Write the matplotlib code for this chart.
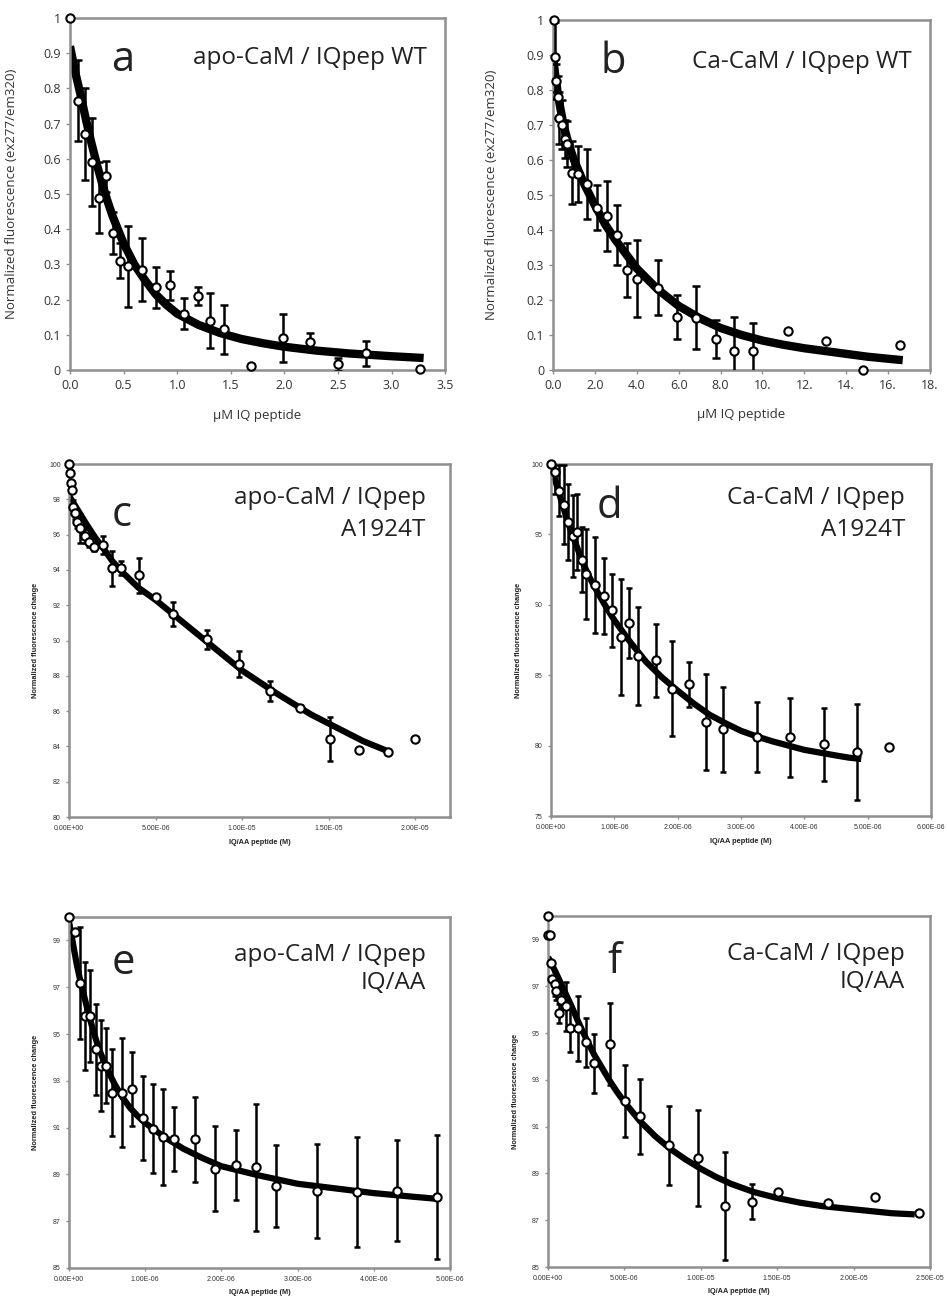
"""Six-panel CaM / IQ peptide fluorescence titration figure."""

import matplotlib

matplotlib.use("Agg")
import matplotlib.pyplot as plt
import numpy as np

# ---- data ------------------------------------------------------------------
# a: apo-CaM / IQpep WT (uM)
A_X = [0.0, 0.075, 0.137, 0.206, 0.27, 0.34, 0.40, 0.47, 0.54, 0.67, 0.80, 0.93,
       1.06, 1.19, 1.31, 1.44, 1.69, 1.99, 2.24, 2.50, 2.76, 3.27]
A_Y = [1.0, 0.765, 0.67, 0.59, 0.49, 0.55, 0.39, 0.31, 0.295, 0.285, 0.235, 0.24,
       0.16, 0.21, 0.14, 0.115, 0.012, 0.09, 0.08, 0.016, 0.047, 0.002]
A_ERR = [0, 0.115, 0.13, 0.125, 0.1, 0.045, 0.06, 0.05, 0.115, 0.09, 0.058, 0.04,
         0.045, 0.025, 0.078, 0.07, 0.005, 0.068, 0.025, 0.018, 0.036, 0]
A_FIT_X = [0.0, 0.05, 0.1, 0.15, 0.2, 0.25, 0.3, 0.35, 0.4, 0.5, 0.6, 0.7, 0.8, 0.9,
           1.0, 1.2, 1.4, 1.6, 1.8, 2.0, 2.3, 2.6, 3.0, 3.3]
A_FIT_Y = [0.92, 0.845, 0.78, 0.71, 0.645, 0.585, 0.53, 0.48, 0.435, 0.36, 0.30,
           0.255, 0.215, 0.185, 0.16, 0.128, 0.105, 0.088, 0.076, 0.066, 0.055,
           0.047, 0.039, 0.034]

# b: Ca-CaM / IQpep WT (uM)
B_X = [0.05, 0.11, 0.16, 0.24, 0.29, 0.41, 0.56, 0.67, 0.91, 1.18, 1.62, 2.10, 2.58,
       3.05, 3.53, 4.0, 4.99, 5.91, 6.84, 7.76, 8.66, 9.55, 11.24, 13.04, 14.82, 16.57]
B_Y = [1.0, 0.893, 0.825, 0.78, 0.72, 0.70, 0.66, 0.645, 0.563, 0.561, 0.532, 0.464,
       0.44, 0.385, 0.286, 0.26, 0.235, 0.151, 0.149, 0.089, 0.055, 0.055, 0.11,
       0.082, 0.0, 0.072]
B_ERR = [0, 0.1, 0.05, 0.06, 0.075, 0.07, 0.055, 0.065, 0.09, 0.08, 0.1, 0.065, 0.1,
         0.085, 0.078, 0.11, 0.078, 0.062, 0.09, 0.055, 0.097, 0.08, 0, 0, 0, 0]
B_FIT_X = [0.0, 0.1, 0.25, 0.5, 0.75, 1.0, 1.5, 2.0, 2.5, 3.0, 3.5, 4.0, 5.0, 6.0,
           7.0, 8.0, 9.0, 10.0, 11.0, 12.0, 13.0, 14.0, 15.0, 16.0, 16.7]
B_FIT_Y = [0.895, 0.845, 0.78, 0.70, 0.645, 0.60, 0.53, 0.47, 0.415, 0.37, 0.33,
           0.29, 0.23, 0.183, 0.148, 0.12, 0.10, 0.084, 0.072, 0.062, 0.054, 0.046,
           0.038, 0.032, 0.028]

# c: apo-CaM / IQpep A1924T (M)
C_X = [0.0, 0.04e-6, 0.1e-6, 0.19e-6, 0.23e-6, 0.37e-6, 0.48e-6, 0.64e-6, 0.91e-6,
       1.16e-6, 1.45e-6, 1.97e-6, 2.49e-6, 3.0e-6, 4.06e-6, 5.0e-6, 5.99e-6, 7.96e-6,
       9.8e-6, 11.63e-6, 13.37e-6, 15.07e-6, 16.75e-6, 18.4e-6, 20.0e-6]
C_Y = [100, 99.47, 98.9, 98.5, 97.55, 97.2, 96.7, 96.35, 95.9, 95.6, 95.3, 95.4, 94.1,
       94.1, 93.7, 92.44, 91.5, 90.07, 88.66, 87.15, 86.18, 84.44, 83.8, 83.7, 84.4]
C_ERR = [0, 0, 0, 0, 0.4, 0.3, 0.3, 0.8, 0.4, 0.3, 0.2, 0.5, 1.0, 0.4, 1.0, 0.15, 0.7,
         0.55, 0.75, 0.55, 0.15, 1.25, 0, 0, 0]
C_FIT_X = [0.0, 0.5e-6, 1e-6, 1.5e-6, 2e-6, 2.5e-6, 3e-6, 4e-6, 5e-6, 6e-6, 7e-6,
           8e-6, 9e-6, 10e-6, 11e-6, 12e-6, 13e-6, 14e-6, 15e-6, 16e-6, 17e-6, 18.5e-6]
C_FIT_Y = [98.2, 97.4, 96.6, 95.85, 95.2, 94.5, 93.95, 93.0, 92.3, 91.5, 90.7, 89.9,
           89.1, 88.3, 87.65, 87.0, 86.4, 85.8, 85.3, 84.8, 84.3, 83.7]

# d: Ca-CaM / IQpep A1924T (M)
D_X = [0.0, 0.068e-6, 0.13e-6, 0.205e-6, 0.274e-6, 0.342e-6, 0.405e-6, 0.484e-6,
       0.553e-6, 0.695e-6, 0.83e-6, 0.963e-6, 1.1e-6, 1.237e-6, 1.37e-6, 1.65e-6,
       1.91e-6, 2.18e-6, 2.45e-6, 2.72e-6, 3.25e-6, 3.78e-6, 4.31e-6, 4.83e-6, 5.34e-6]
D_Y = [100, 99.4, 98.1, 97.1, 95.9, 94.9, 95.2, 93.2, 92.2, 91.4, 90.6, 89.6, 87.7,
       88.7, 86.35, 86.07, 84.05, 84.35, 81.7, 81.15, 80.6, 80.6, 80.1, 79.55, 79.9]
D_ERR = [0, 1.5, 1.8, 2.8, 2.7, 2.9, 2.7, 2.3, 3.2, 3.4, 2.7, 2.6, 4.1, 2.5, 3.5, 2.6,
         3.4, 1.6, 3.4, 3.0, 2.5, 2.8, 2.6, 3.4, 0]
D_FIT_X = [0.0, 0.1e-6, 0.2e-6, 0.3e-6, 0.4e-6, 0.5e-6, 0.6e-6, 0.75e-6, 0.9e-6,
           1.0e-6, 1.25e-6, 1.5e-6, 1.75e-6, 2.0e-6, 2.25e-6, 2.5e-6, 2.75e-6, 3.0e-6,
           3.25e-6, 3.5e-6, 3.75e-6, 4.0e-6, 4.25e-6, 4.5e-6, 4.7e-6, 4.9e-6]
D_FIT_Y = [99.9, 98.3, 96.8, 95.4, 94.2, 93.0, 92.0, 90.75, 89.6, 88.9, 87.35, 85.95,
           84.85, 83.9, 83.0, 82.2, 81.6, 81.05, 80.65, 80.3, 80.0, 79.7, 79.5, 79.3,
           79.15, 79.05]

# e: apo-CaM / IQpep IQ/AA (M)
E_X = [0.0, 0.074e-6, 0.144e-6, 0.21e-6, 0.276e-6, 0.35e-6, 0.415e-6, 0.486e-6,
       0.56e-6, 0.69e-6, 0.83e-6, 0.967e-6, 1.1e-6, 1.24e-6, 1.38e-6, 1.65e-6,
       1.916e-6, 2.19e-6, 2.45e-6, 2.72e-6, 3.25e-6, 3.78e-6, 4.3e-6, 4.83e-6]
E_Y = [100, 99.36, 97.19, 95.77, 95.77, 94.35, 93.65, 93.65, 92.5, 92.5, 92.65, 91.4,
       90.95, 90.6, 90.5, 90.5, 89.25, 89.4, 89.3, 88.5, 88.3, 88.25, 88.3, 88.05]
E_ERR = [0, 0, 2.4, 2.3, 1.95, 1.95, 1.95, 1.6, 1.85, 2.35, 1.6, 1.8, 1.9, 2.05, 1.37,
         1.82, 1.82, 1.5, 2.7, 1.75, 2.0, 2.35, 2.15, 2.65]
E_FIT_X = [0.0, 0.05e-6, 0.1e-6, 0.15e-6, 0.2e-6, 0.25e-6, 0.3e-6, 0.35e-6, 0.4e-6,
           0.5e-6, 0.6e-6, 0.7e-6, 0.8e-6, 0.9e-6, 1.0e-6, 1.25e-6, 1.5e-6, 1.75e-6,
           2.0e-6, 2.5e-6, 3.0e-6, 3.5e-6, 4.0e-6, 4.5e-6, 4.85e-6]
E_FIT_Y = [99.8, 98.9, 98.0, 97.25, 96.6, 95.95, 95.35, 94.8, 94.3, 93.5, 92.85, 92.3,
           91.85, 91.5, 91.2, 90.6, 90.1, 89.7, 89.35, 88.95, 88.6, 88.4, 88.2, 88.05,
           87.95]

# f: Ca-CaM / IQpep IQ/AA (M)
F_X = [0.0, 0.0, 0.1e-6, 0.22e-6, 0.26e-6, 0.44e-6, 0.55e-6, 0.7e-6, 0.87e-6, 1.2e-6,
       1.46e-6, 1.97e-6, 2.51e-6, 3.01e-6, 4.04e-6, 5.02e-6, 6.0e-6, 7.9e-6, 9.83e-6,
       11.6e-6, 13.36e-6, 15.07e-6, 18.3e-6, 21.4e-6, 24.3e-6]
F_Y = [100, 99.2, 99.2, 98.0, 97.3, 97.1, 96.8, 95.85, 96.4, 96.15, 95.2, 95.2, 94.6,
       93.7, 94.55, 92.1, 91.45, 90.2, 89.65, 87.6, 87.8, 88.2, 87.75, 88.0, 87.3]
F_ERR = [0, 0, 0, 0, 0, 0.5, 0.4, 0.4, 0.4, 1.05, 1.0, 1.4, 1.05, 1.25, 1.75, 1.55,
         1.6, 1.7, 2.05, 2.3, 0.75, 0, 0, 0, 0]
F_FIT_X = [0.0, 0.5e-6, 1e-6, 1.5e-6, 2e-6, 2.5e-6, 3e-6, 3.5e-6, 4e-6, 4.5e-6, 5e-6,
           6e-6, 7e-6, 8e-6, 9e-6, 10e-6, 11e-6, 12e-6, 13.5e-6, 15e-6, 16.5e-6, 18e-6,
           19.5e-6, 21e-6, 22.5e-6, 24e-6]
F_FIT_Y = [98.25, 97.6, 96.9, 96.2, 95.45, 94.75, 94.1, 93.55, 93.0, 92.5, 92.05,
           91.25, 90.6, 90.05, 89.6, 89.2, 88.85, 88.55, 88.2, 87.95, 87.75, 87.6,
           87.5, 87.4, 87.3, 87.25]

WT_XTICKS_A = [0.0, 0.5, 1.0, 1.5, 2.0, 2.5, 3.0, 3.5]
WT_XTICKS_B = [0, 2, 4, 6, 8, 10, 12, 14, 16, 18]
WT_XLABELS_B = ["0.0", "2.0", "4.0", "6.0", "8.0", "10.", "12.", "14.", "16.", "18."]
WT_YTICKS = [0.0, 0.1, 0.2, 0.3, 0.4, 0.5, 0.6, 0.7, 0.8, 0.9, 1.0]
WT_YLABELS = ["0", "0.1", "0.2", "0.3", "0.4", "0.5", "0.6", "0.7", "0.8", "0.9", "1"]

FRAME = "#8f8f8f"
TEXT = "#333333"
SANS = ["Open Sans", "DejaVu Sans"]
ARIAL = ["Liberation Sans", "DejaVu Sans"]

fig = plt.figure(figsize=(9.47, 12.99), dpi=100)


def style_axes(ax):
    for sp in ax.spines.values():
        sp.set_color(FRAME)
        sp.set_linewidth(1.8)
    ax.tick_params(direction="out", color=FRAME, width=1.0, length=3)


def draw(ax, x, y, err, fit_x, fit_y, lw_fit, ms, cap):
    ax.plot(fit_x, fit_y, color="black", linewidth=lw_fit, solid_capstyle="butt",
            solid_joinstyle="round", zorder=2)
    ax.errorbar(x, y, yerr=err, fmt="none", ecolor="black", elinewidth=1.8,
                capsize=cap, capthick=1.8, zorder=3)
    ax.plot(x, y, "o", markersize=ms, markerfacecolor="white", markeredgecolor="black",
            markeredgewidth=1.5, linestyle="none", zorder=4, clip_on=False)


def titles(ax, letter, lines, lx, ly, tx, ty, dy):
    ax.text(lx, ly, letter, transform=ax.transAxes, fontsize=30, family=SANS,
            color="#222222", ha="center", va="center")
    for i, line in enumerate(lines):
        ax.text(tx, ty - i * dy, line, transform=ax.transAxes, fontsize=17.5, family=SANS,
                color="#222222", ha="right", va="center")


# ---- a ------------------------------------------------------------------------
ax = fig.add_axes([0.0739, 0.7152, 0.3961, 0.2709])
style_axes(ax)
draw(ax, A_X, A_Y, A_ERR, A_FIT_X, A_FIT_Y, 6, 6, 3)
ax.set_xlim(0, 3.5)
ax.set_ylim(0, 1)
ax.set_xticks(WT_XTICKS_A)
ax.set_xticklabels([f"{v:.1f}" for v in WT_XTICKS_A], family=SANS, fontsize=9, color=TEXT)
ax.set_yticks(WT_YTICKS)
ax.set_yticklabels(WT_YLABELS, family=SANS, fontsize=9, color=TEXT)
ax.set_ylabel("Normalized fluorescence (ex277/em320)", family=SANS, fontsize=9.5, color=TEXT)
ax.set_xlabel("µM IQ peptide", family=SANS, fontsize=9.5, color=TEXT)
ax.yaxis.set_label_coords(-0.139, 0.5)
ax.xaxis.set_label_coords(0.5, -0.11)
titles(ax, "a", ["apo-CaM / IQpep WT"], 0.141, 0.88, 0.952, 0.886, 0)

# ---- b ------------------------------------------------------------------------
ax = fig.add_axes([0.584, 0.7152, 0.398, 0.2694])
style_axes(ax)
draw(ax, B_X, B_Y, B_ERR, B_FIT_X, B_FIT_Y, 6, 6, 3)
ax.set_xlim(0, 18)
ax.set_ylim(0, 1)
ax.set_xticks(WT_XTICKS_B)
ax.set_xticklabels(WT_XLABELS_B, family=SANS, fontsize=9, color=TEXT)
ax.set_yticks(WT_YTICKS)
ax.set_yticklabels(WT_YLABELS, family=SANS, fontsize=9, color=TEXT)
ax.set_ylabel("Normalized fluorescence (ex277/em320)", family=SANS, fontsize=9.5, color=TEXT)
ax.set_xlabel("µM IQ peptide", family=SANS, fontsize=9.5, color=TEXT)
ax.yaxis.set_label_coords(-0.146, 0.5)
ax.xaxis.set_label_coords(0.5, -0.11)
titles(ax, "b", ["Ca-CaM / IQpep WT"], 0.159, 0.88, 0.952, 0.88, 0)


def mutant_panel(rect, x, y, err, fx, fy, xmax, xstep, yticks, ylim, ylab_x, xlab_y):
    ax = fig.add_axes(rect)
    style_axes(ax)
    draw(ax, x, y, err, fx, fy, 4.5, 6, 2.5)
    ax.set_xlim(0, xmax)
    ax.set_ylim(*ylim)
    xt = np.arange(0, xmax + xstep / 2, xstep)
    ax.set_xticks(xt)
    ax.set_xticklabels(["0.00E+00"] + [f"{v:.2E}" for v in xt[1:]],
                       family=ARIAL, fontsize=5, color=TEXT)
    ax.set_yticks(yticks)
    ax.set_yticklabels([str(v) for v in yticks], family=ARIAL, fontsize=5, color=TEXT)
    ax.tick_params(length=2.5)
    ax.set_ylabel("Normalized fluorescence change", family=ARIAL, fontsize=5.3,
                  fontweight="bold", color="#222222")
    ax.set_xlabel("IQ/AA peptide (M)", family=ARIAL, fontsize=5.3, fontweight="bold",
                  color="#222222")
    ax.yaxis.set_label_coords(ylab_x, 0.5)
    ax.xaxis.set_label_coords(0.5, xlab_y)
    return ax


ax = mutant_panel([0.0729, 0.371, 0.4021, 0.2718], C_X, C_Y, C_ERR, C_FIT_X, C_FIT_Y,
                  2.2e-5, 5e-6, list(range(80, 101, 2)), (80, 100), -0.079, -0.062)
titles(ax, "c", ["apo-CaM / IQpep", "A1924T"], 0.139, 0.855, 0.937, 0.904, 0.091)

ax = mutant_panel([0.582, 0.3718, 0.401, 0.271], D_X, D_Y, D_ERR, D_FIT_X, D_FIT_Y,
                  6e-6, 1e-6, list(range(75, 101, 5)), (75, 100), -0.076, -0.062)
titles(ax, "d", ["Ca-CaM / IQpep", "A1924T"], 0.153, 0.878, 0.932, 0.904, 0.091)

ax = mutant_panel([0.0729, 0.0239, 0.4021, 0.2701], E_X, E_Y, E_ERR, E_FIT_X, E_FIT_Y,
                  5e-6, 1e-6, list(range(85, 100, 2)), (85, 100), -0.079, -0.06)
titles(ax, "e", ["apo-CaM / IQpep", "IQ/AA"], 0.142, 0.869, 0.937, 0.892, 0.08)

ax = mutant_panel([0.5787, 0.0246, 0.4033, 0.2702], F_X, F_Y, F_ERR, F_FIT_X, F_FIT_Y,
                  2.5e-5, 5e-6, list(range(85, 100, 2)), (85, 100), -0.076, -0.06)
titles(ax, "f", ["Ca-CaM / IQpep", "IQ/AA"], 0.173, 0.869, 0.935, 0.892, 0.08)

fig.savefig("out.png", dpi=100, facecolor="white")
